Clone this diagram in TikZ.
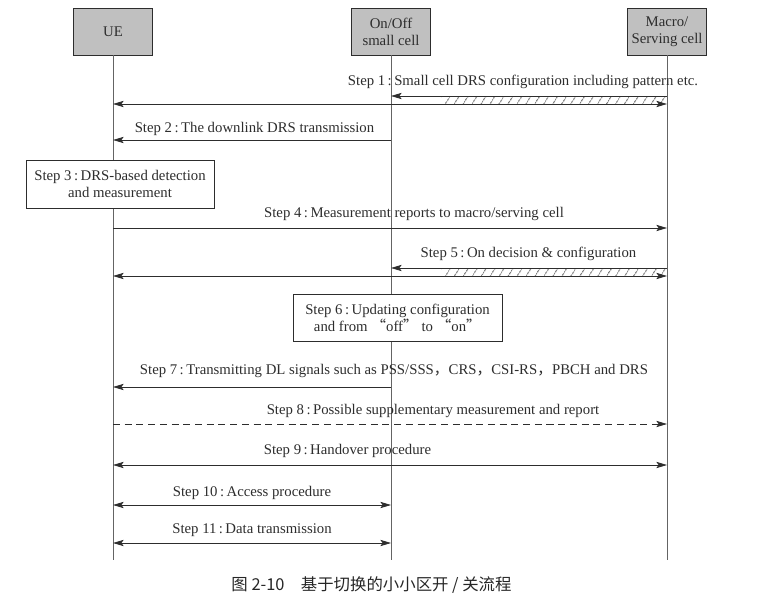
\documentclass[tikz,border=0pt]{standalone}
\usepackage{fontspec}
\setmainfont{Liberation Serif}
\newfontfamily\cjk{Noto Sans CJK SC}
\usepackage{tikz}
\usetikzlibrary{arrows.meta, patterns.meta}
\definecolor{ink}{RGB}{45,45,45}
\definecolor{lifegray}{RGB}{100,100,100}
\definecolor{headfill}{RGB}{192,192,192}

\begin{document}
\begin{tikzpicture}[x=0.03cm, y=-0.03cm, font=\fontsize{12.6}{14.5}\selectfont, text=ink,
  head/.style={rectangle, draw=ink, fill=headfill, thick, minimum width=2.37cm,
               minimum height=1.41cm, align=center, inner sep=1pt},
  stepbox/.style={rectangle, draw=ink, fill=white, thick, align=center, inner sep=0pt},
  msg/.style={-{Stealth[length=3.2mm,width=1.9mm,inset=0.7mm]}, ink, line width=0.7pt},
  both/.style={{Stealth[length=3.2mm,width=1.9mm,inset=0.7mm]}-{Stealth[length=3.2mm,width=1.9mm,inset=0.7mm]},
               ink, line width=0.7pt},
  hatch/.style={pattern={Lines[angle=58,distance=6.5pt,line width=0.6pt]}, pattern color=ink}]
  \useasboundingbox (0,0) rectangle (774,614);
  % lifelines
  \foreach \x/\name/\id in {113/UE/ue, 391/{On/Off\\small cell}/on, 667/{Macro/\\Serving cell}/mc} {
    \node[head] (\id) at (\x,31.5) {\name};
    \coordinate (\id end) at (\x,560);
    \draw[lifegray, line width=0.6pt] (\id) -- (\id end);
    \foreach \n/\y in {a/96, b/104, c/140, d/228, e/268, f/276, g/387, h/424, i/465, j/505, k/543}
      \coordinate (\id\n) at (\x,\y);
  }
  \coordinate (hatch1) at (441,96);
  \coordinate (hatch5) at (441,268);
  \fill[hatch] (hatch1) rectangle (mcb);
  \fill[hatch] (hatch5) rectangle (mcf);

  \node[stepbox, minimum width=5.64cm, minimum height=1.44cm] (step3) at (120,184)
    {Step 3\,:\,DRS-based detection\\and measurement};
  \node[stepbox, minimum width=6.27cm, minimum height=1.41cm] (step6) at (397.5,317.5)
    {Step 6\,:\,Updating configuration\\and from {\cjk “}off{\cjk ”} to {\cjk “}on{\cjk ”}};

  \draw[msg] (mca) -- (ona);
  \draw[both] (ueb) -- (mcb);
  \node (l1) at (523,82) {Step 1\,:\,Small cell DRS configuration including pattern etc.};
  \draw[msg] (onc) -- (uec);
  \node (l2) at (254.5,129) {Step 2\,:\,The downlink DRS transmission};
  \draw[msg] (ued) -- (mcd);
  \node (l4) at (414,214) {Step 4\,:\,Measurement reports to macro/serving cell};
  \draw[msg] (mce) -- (one);
  \draw[both] (uef) -- (mcf);
  \node (l5) at (528.5,254) {Step 5\,:\,On decision \& configuration};
  \draw[msg] (ong) -- (ueg);
  \node (l7) at (394,371) {Step 7\,:\,Transmitting DL signals such as PSS/SSS{\cjk ，}CRS{\cjk ，}CSI-RS{\cjk ，}PBCH and DRS};
  \draw[msg, dashed, dash pattern=on 6pt off 4pt] (ueh) -- (mch);
  \node (l8) at (433,411) {Step 8\,:\,Possible supplementary measurement and report};
  \draw[both] (uei) -- (mci);
  \node (l9) at (347.5,451) {Step 9\,:\,Handover procedure};
  \draw[both] (uej) -- (onj);
  \node (l10) at (252,493) {Step 10\,:\,Access procedure};
  \draw[both] (uek) -- (onk);
  \node (l11) at (252,530) {Step 11\,:\,Data transmission};

  \node[font=\cjk\fontsize{14}{16}\selectfont, text=black!85] (caption) at (371.5,585)
    {图 2-10\quad 基于切换的小小区开 / 关流程};
\end{tikzpicture}
\end{document}
